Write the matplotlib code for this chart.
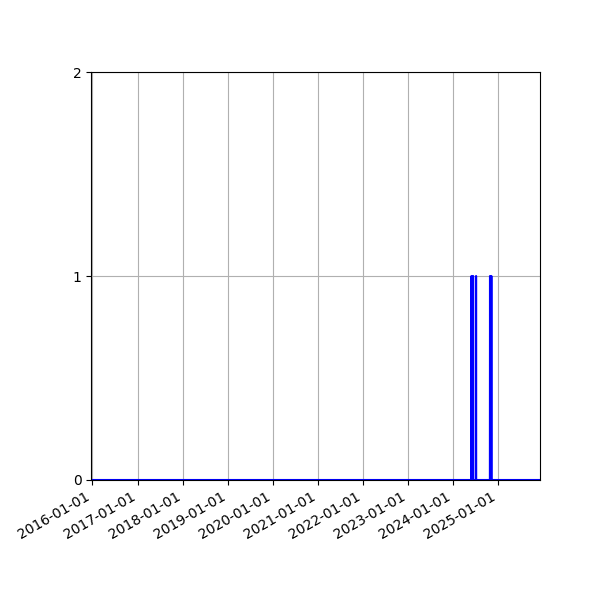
import matplotlib

matplotlib.use("Agg")
import matplotlib.dates as mdates
import matplotlib.pyplot as plt
import pandas as pd

# ---------------------------------------------------------------------------
# Data: polyline vertices of the daily event-count series
# (zero everywhere except five single days with a count of 1 in 2024)
# ---------------------------------------------------------------------------
DATES = [
    "2015-12-22",
    "2024-05-28",
    "2024-05-29",
    "2024-05-30",
    "2024-06-10",
    "2024-06-11",
    "2024-06-12",
    "2024-07-04",
    "2024-07-05",
    "2024-07-06",
    "2024-10-25",
    "2024-10-26",
    "2024-10-27",
    "2024-11-05",
    "2024-11-06",
    "2024-11-07",
    "2025-12-05",
]
COUNTS = [0, 0, 1, 0, 0, 1, 0, 0, 1, 0, 0, 1, 0, 0, 1, 0, 0]

Y_TICKS = [0, 1, 2]


def main():
    dates = pd.to_datetime(DATES)

    fig, ax = plt.subplots(figsize=(6, 6), dpi=100)
    ax.plot(dates, COUNTS, color="blue", linewidth=1.5)

    ax.set_xlim(dates[0], dates[-1])
    ax.set_ylim(0, 2)
    ax.set_yticks(Y_TICKS)
    ax.xaxis.set_major_locator(mdates.YearLocator())
    ax.xaxis.set_major_formatter(mdates.DateFormatter("%Y-%m-%d"))
    ax.grid(True)

    fig.autofmt_xdate()
    fig.subplots_adjust(left=0.152, right=0.9, top=0.88, bottom=0.2)
    fig.savefig("out.png")


if __name__ == "__main__":
    main()
